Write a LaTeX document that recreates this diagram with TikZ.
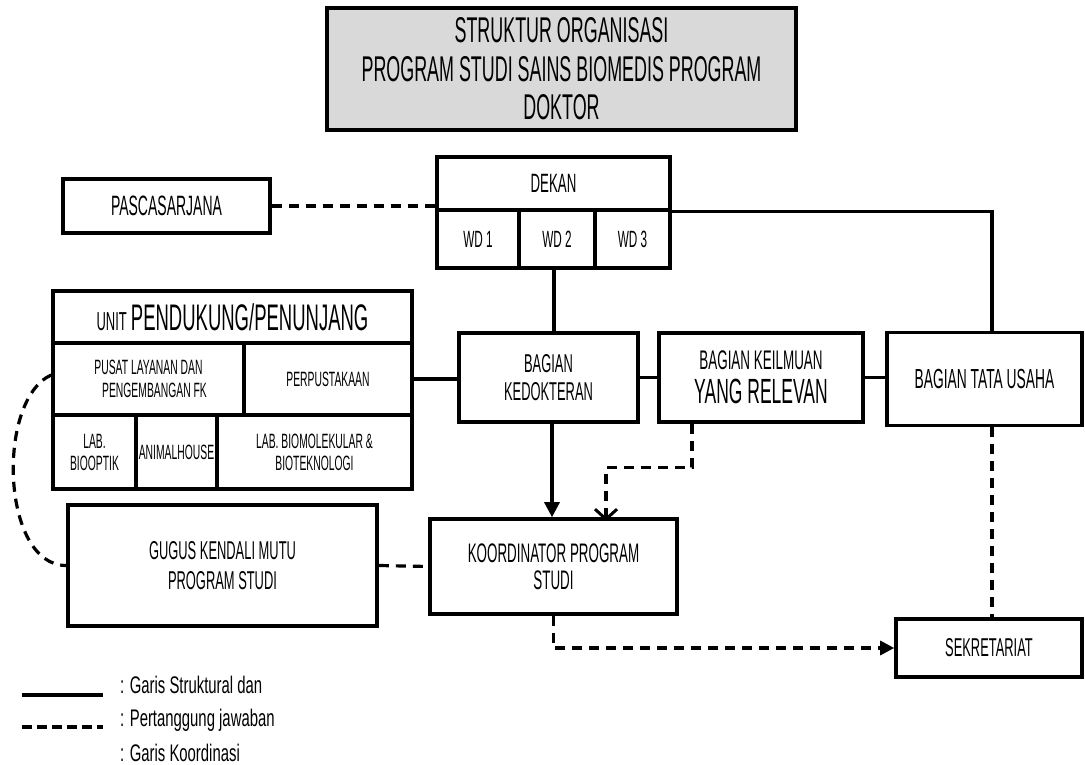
\documentclass[tikz,border=0pt]{standalone}
\usepackage{fontspec}
\setmainfont{Liberation Sans}[FakeStretch=0.5]
\newfontfamily\legfont{Liberation Sans}[FakeStretch=0.62]
\usetikzlibrary{arrows.meta}
\newcommand{\fsz}[2]{\fontsize{#1}{#2}\selectfont}
\definecolor{titlegray}{HTML}{D9D9D9}
\begin{document}
\begin{tikzpicture}[x=1pt,y=-1pt,
  box/.style={draw, line width=3.6pt, inner sep=0pt, align=center, anchor=center},
  titlebox/.style={box, line width=4.5pt, fill=titlegray},
  solidline/.style={line width=3.2pt},
  dashline/.style={line width=3.2pt, dash pattern=on 10pt off 7pt},
  big/.style={font=\fsz{25.8}{28}},
  mid/.style={font=\fsz{23.5}{26}},
  small/.style={font=\fsz{20.7}{23}},
  legtext/.style={anchor=west, inner sep=0pt, font=\legfont\fsz{24}{26}}
]
\useasboundingbox (0,0) rectangle (1085,765);

% title
\node[titlebox, minimum width=469pt, minimum height=122pt, font=\fsz{35.8}{38.5}] (title) at (561.5,69)
  {STRUKTUR ORGANISASI\\PROGRAM STUDI SAINS BIOMEDIS PROGRAM\\DOKTOR};

% dekan block
\node[box, font=\fsz{26.5}{28}, minimum width=233pt, minimum height=53pt] (dekan) at (553.5,183.5) {DEKAN};
\node[box, mid, minimum width=82pt, minimum height=58pt] (wd1) at (478,239) {WD 1};
\node[box, mid, minimum width=76pt, minimum height=58pt] (wd2) at (557,239) {WD 2};
\node[box, mid, minimum width=75pt, minimum height=58pt] (wd3) at (632.5,239) {WD 3};

% pascasarjana
\node[box, font=\fsz{28}{30}, minimum width=207pt, minimum height=54pt] (pasca) at (166.5,206) {PASCASARJANA};

% unit pendukung
\node[box, minimum width=359pt, minimum height=52pt] (unit) at (232.5,317)
  {{\fsz{26}{30}UNIT}\hspace{4pt}{\fsz{37}{40}PENDUKUNG/PENUNJANG}};
\node[box, small, minimum width=191pt, minimum height=72pt] (pusat) at (148.5,379)
  {PUSAT LAYANAN DAN\\\hspace*{12pt}PENGEMBANGAN FK};
\node[box, small, minimum width=168pt, minimum height=72pt] (perpus) at (328,379) {PERPUSTAKAAN};
\node[box, small, font=\fsz{20.7}{22}, minimum width=83pt, minimum height=74pt] (labbio) at (94.5,452) {LAB.\\BIOOPTIK};
\node[box, small, minimum width=81pt, minimum height=74pt] (animal) at (176.5,452) {ANIMALHOUSE};
\node[box, small, font=\fsz{20.7}{22}, minimum width=195pt, minimum height=74pt] (labmol) at (314.5,452) {LAB. BIOMOLEKULAR \&\\BIOTEKNOLOGI};

% bagian
\node[box, big, minimum width=179pt, minimum height=89pt] (kedok) at (548.5,377.5) {BAGIAN\\KEDOKTERAN};
\node[box, font=\fsz{26.9}{34}, minimum width=204pt, minimum height=89pt] (keilmu) at (761,377.5)
  {BAGIAN KEILMUAN\\{\fsz{35}{34}YANG RELEVAN}};
\node[box, font=\fsz{27.6}{30}, minimum width=195pt, minimum height=93pt] (tu) at (984.5,379) {BAGIAN TATA USAHA};

% lower row
\node[box, font=\fsz{25.8}{30}, minimum width=309pt, minimum height=121pt] (gugus) at (222.5,565.5)
  {GUGUS KENDALI MUTU\\PROGRAM STUDI};
\node[box, font=\fsz{26.8}{27}, minimum width=247pt, minimum height=95pt] (koord) at (553.5,566.5)
  {KOORDINATOR PROGRAM\\STUDI};
\node[box, big, minimum width=186pt, minimum height=58pt] (sekre) at (989,648) {SEKRETARIAT};

% connectors
\draw[dashline] (pasca.east) -- (pasca.east -| dekan.west);
\draw[solidline] (dekan.south east) -| ([xshift=7.5pt]tu.north);
\draw[solidline] ([xshift=-3pt]wd2.south) -- ([xshift=-3pt]wd2.south |- kedok.north);
\draw[solidline] (perpus.east) -- (perpus.east -| kedok.west);
\draw[solidline] (kedok.east) -- (keilmu.west);
\draw[solidline] (keilmu.east) -- (keilmu.east -| tu.west);
\draw[solidline, -{Triangle[length=15pt,width=15pt]}] ([xshift=3.5pt]kedok.south) -- ([xshift=3.5pt]kedok.south |- koord.north);
\draw[dashline, -{Straight Barb[length=10pt,width=22pt,line width=3pt]}]
  ([xshift=-69pt]keilmu.south) -- ++(0,44) -| ([xshift=52.5pt,yshift=-4pt]koord.north);
\draw[dashline, -{Triangle[length=14pt,width=14pt]}] (koord.south) |- (sekre.west);
\draw[dashline] ([xshift=7.5pt]tu.south) -- ([xshift=7.5pt]tu.south |- sekre.north);
\draw[dashline] (gugus.east) -- (koord.west);
\draw[dashline] ([yshift=4pt]pusat.west) .. controls (-4,400) and (1,565.5) .. (gugus.west);

% legend
\node[legtext] (leg1) at (120,685) {: Garis Struktural dan};
\node[legtext] (leg2) at (120,720) {: Pertanggung jawaban};
\node[legtext] (leg3) at (120,753) {: Garis Koordinasi};
\coordinate (l1a) at (22,695);
\coordinate (l1b) at (103,695);
\coordinate (l2a) at (22,727);
\coordinate (l2b) at (103,727);
\draw[line width=3.5pt] (l1a) -- (l1b);
\draw[line width=3.5pt, dash pattern=on 10pt off 5pt] (l2a) -- (l2b);
\end{tikzpicture}
\end{document}
